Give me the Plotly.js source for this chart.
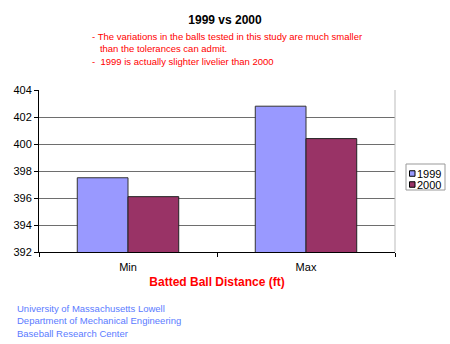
<!DOCTYPE html>
<html><head><meta charset="utf-8">
<script src="https://cdn.plot.ly/plotly-3.0.1.min.js"></script>
<style>html,body{margin:0;padding:0;background:#fff;}#chart{width:450px;height:344px;}</style>
</head><body><div id="chart"></div>
<script>
const categories = ["Min", "Max"];
const series1999 = [397.5, 402.8];
const series2000 = [396.1, 400.4];
const seriesNames = ["1999", "2000"];
const seriesColors = ["#9999FF", "#993366"];
const yTicks = [392, 394, 396, 398, 400, 402, 404];

const F = "Arial, 'Liberation Sans', sans-serif";
const data = [
  {type: "bar", name: seriesNames[0], x: categories, y: series1999,
   marker: {color: seriesColors[0], line: {color: "#333333", width: 1}}},
  {type: "bar", name: seriesNames[1], x: categories, y: series2000,
   marker: {color: seriesColors[1], line: {color: "#222222", width: 1}}}
];
// pixel -> paper helpers (plot area: x 39..395, y 90..252)
const px = v => (v - 39) / 356;
const py = v => 1 - (v - 90) / 162;

const legendShapes = [
  {type: "rect", xref: "paper", yref: "paper", x0: px(406), x1: px(445), y0: py(164), y1: py(190),
   line: {color: "#999999", width: 1}, fillcolor: "#ffffff"}
];
const legendAnn = [];
seriesNames.forEach((n, i) => {
  const cy = 173.5 + i * 11;
  legendShapes.push({type: "rect", xref: "paper", yref: "paper", x0: px(409.5), x1: px(415), y0: py(cy - 2.75), y1: py(cy + 2.75),
    line: {color: "#000000", width: 1}, fillcolor: seriesColors[i]});
  legendAnn.push({text: n, xref: "paper", yref: "paper", x: px(416.5), y: py(cy), xanchor: "left", yanchor: "middle",
    borderpad: 0, showarrow: false, font: {family: F, size: 11, color: "#000"}});
});

const layout = {
  width: 450, height: 344,
  margin: {l: 39, r: 55, t: 90, b: 92, autoexpand: false},
  paper_bgcolor: "#fff", plot_bgcolor: "#fff",
  font: {family: F, size: 11, color: "#000"},
  bargap: 0.43, bargroupgap: 0,
  showlegend: false,
  title: {text: "<b>1999 vs 2000</b>", x: 0.5, xref: "container", xanchor: "center", y: 1 - 20/344, yanchor: "middle",
    font: {family: F, size: 12, color: "#000"}},
  xaxis: {
    type: "category", showline: true, linecolor: "#000", linewidth: 1,
    ticks: "outside", tickson: "boundaries", ticklen: 4, tickcolor: "#000",
    ticklabelstandoff: 5,
    tickfont: {family: F, size: 11, color: "#000"},
    title: {text: "<b>Batted Ball Distance (ft)</b>", font: {family: F, size: 12, color: "#FF0000"}, standoff: 5},
    showgrid: false
  },
  yaxis: {
    range: [392, 404], tickvals: yTicks, ticktext: yTicks.map(String),
    showline: true, linecolor: "#000", linewidth: 1,
    ticks: "outside", ticklen: 4, tickcolor: "#000",
    tickfont: {family: F, size: 11, color: "#000"},
    showgrid: true, gridcolor: "#6e6e6e", gridwidth: 1, zeroline: false
  },
  shapes: [
    {type: "line", xref: "paper", yref: "paper", x0: 1, x1: 1, y0: 0, y1: 1, line: {color: "#bbbbbb", width: 1}}
  ].concat(legendShapes),
  annotations: [
    {text: "- The variations in the balls tested in this study are much smaller<br>   than the tolerances can admit.<br>-  1999 is actually slighter livelier than 2000",
     xref: "paper", yref: "paper", x: px(90), y: 1 + (90-29)/162, xanchor: "left", yanchor: "top", align: "left",
     showarrow: false, font: {family: F, size: 9.5, color: "#FF0000"}},
    {text: "University of Massachusetts Lowell<br>Department of Mechanical Engineering<br>Baseball Research Center",
     xref: "paper", yref: "paper", x: px(15), y: -(301-252)/162, xanchor: "left", yanchor: "top", align: "left",
     showarrow: false, font: {family: F, size: 9.5, color: "#5B7BFF"}}
  ].concat(legendAnn)
};
Plotly.newPlot("chart", data, layout, {displayModeBar: false, staticPlot: true});
</script></body></html>
